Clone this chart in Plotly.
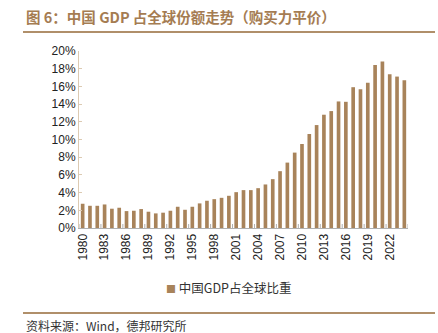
import plotly.graph_objects as go

# China's share of world GDP (PPP), %
years = list(range(1980, 2025))
share = [2.74, 2.51, 2.51, 2.66, 2.18, 2.29, 1.91, 1.95, 2.14, 1.84,
         1.65, 1.73, 1.95, 2.40, 2.06, 2.40, 2.78, 3.08, 3.26, 3.41,
         3.64, 4.05, 4.28, 4.28, 4.50, 4.92, 5.52, 6.42, 7.39, 8.52,
         9.49, 10.62, 11.63, 12.80, 13.21, 14.30, 14.26, 15.91, 15.68, 16.40,
         18.42, 18.80, 17.37, 17.11, 16.70]
label_years = list(range(1980, 2023, 3))
y_ticks = list(range(0, 21, 2))

bar_color = "#a8835a"
accent = "#a57c52"
rule_color = "#b08f6a"
font_cn = "Noto Sans CJK SC"
W, H = 438, 333
# plot area in page pixels
PL, PR, PT, PB = 79, 408, 51, 228


def fx(px):
    return px / W


def fy(py):
    return 1 - py / H


fig = go.Figure()
fig.add_trace(go.Bar(
    x=years, y=share, name="中国GDP占全球比重",
    marker=dict(color=bar_color, line=dict(width=0)),
    width=0.5, showlegend=False,
))

fig.update_layout(
    width=W, height=H,
    margin=dict(l=0, r=0, t=0, b=0, autoexpand=False),
    plot_bgcolor="white", paper_bgcolor="white",
    font=dict(family="Liberation Sans, Arial", size=12, color="#222222"),
)

fig.update_xaxes(
    domain=[fx(PL), fx(PR)],
    range=[1979.5, 2024.5], automargin=False,
    tickvals=label_years, ticktext=[str(y) for y in label_years],
    tickangle=-90, ticks="", showgrid=False,
    showline=True, linecolor="#b0b0b0", linewidth=1,
    tickfont=dict(size=12, color="#222222"),
)
fig.update_yaxes(
    domain=[fy(PB), fy(PT)],
    range=[0, 20], automargin=False,
    tickvals=y_ticks, ticktext=[f"{v}%" for v in y_ticks],
    showgrid=False, zeroline=False,
    showline=True, linecolor="#dccab2", linewidth=1,
    ticks="inside", ticklen=3, tickcolor="#dccab2",
    tickfont=dict(size=12, color="#222222"),
)

# Short category-boundary ticks on the x axis, every three years
for yr in label_years + [2025]:
    fig.add_shape(type="line", xref="x", yref="paper",
                  x0=yr - 0.5, x1=yr - 0.5, y0=fy(PB), y1=fy(PB - 4),
                  line=dict(color="#b0b0b0", width=1))

# Title
fig.add_annotation(text="<b>图 6：中国 GDP 占全球份额走势（购买力平价）</b>",
                   xref="paper", yref="paper", x=fx(24), y=fy(16),
                   xanchor="left", yanchor="middle", showarrow=False,
                   font=dict(family=font_cn, size=14.5, color=accent))

# Horizontal rules above the chart and above the source note
for rule_y in (32, 313):
    fig.add_shape(type="line", xref="paper", yref="paper",
                  x0=fx(23), x1=fx(435), y0=fy(rule_y), y1=fy(rule_y),
                  line=dict(color=rule_color, width=2))

# Legend entry
fig.add_annotation(text=f"<span style='color:{bar_color};font-size:10px'>■</span> 中国GDP占全球比重",
                   xref="paper", yref="paper", x=fx(228), y=fy(287),
                   xanchor="center", yanchor="middle", showarrow=False,
                   font=dict(family=font_cn, size=12.5, color="#333333"))

# Source note
fig.add_annotation(text="资料来源：Wind，德邦研究所",
                   xref="paper", yref="paper", x=fx(24), y=fy(325),
                   xanchor="left", yanchor="middle", showarrow=False,
                   font=dict(family=font_cn, size=12, color="#333333"))

fig.write_html("out.html")
